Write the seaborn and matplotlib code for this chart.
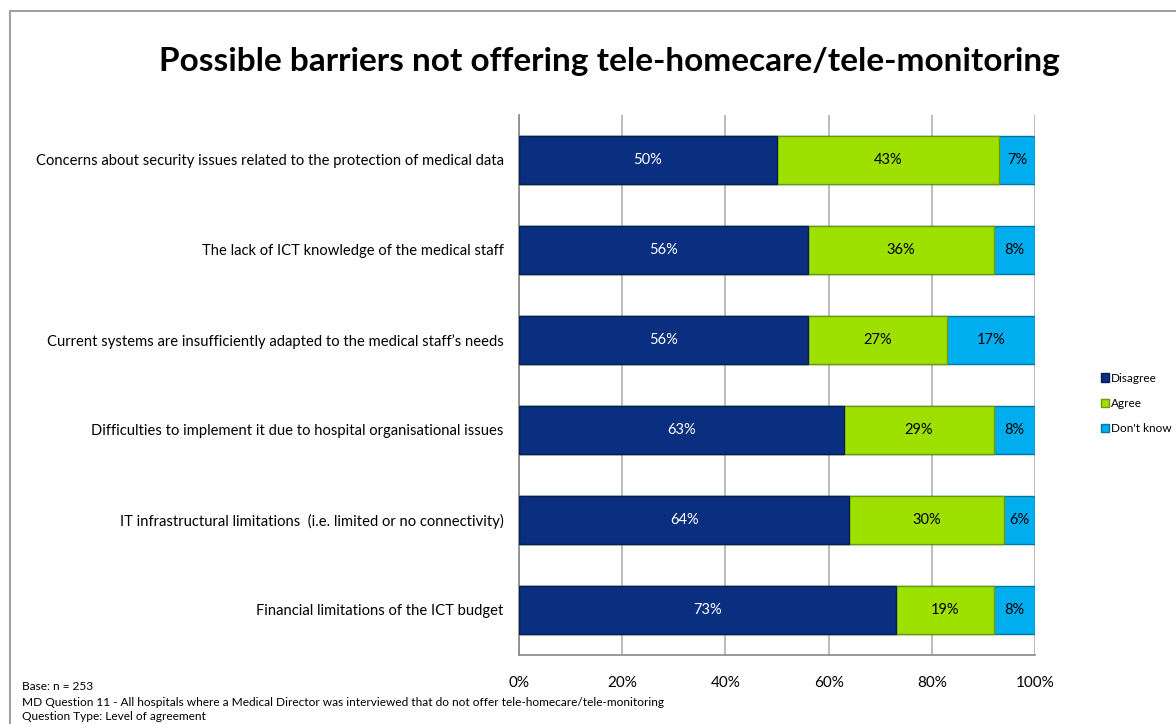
import matplotlib
matplotlib.use("Agg")
import matplotlib.pyplot as plt
import numpy as np
import pandas as pd
import seaborn as sns
from matplotlib.patches import Rectangle

categories = [
    "Concerns about security issues related to the protection of medical data",
    "The lack of ICT knowledge of the medical staff",
    "Current systems are insufficiently adapted to the medical staff\u2019s needs",
    "Difficulties to implement it due to hospital organisational issues",
    "IT infrastructural limitations  (i.e. limited or no connectivity)",
    "Financial limitations of the ICT budget",
]
disagree = [50, 56, 56, 63, 64, 73]
agree = [43, 36, 27, 29, 30, 19]
dont_know = [7, 8, 17, 8, 6, 8]

series = ["Disagree", "Agree", "Don't know"]
colors = {"Disagree": "#0B2F80", "Agree": "#9EE000", "Don't know": "#00AEEF"}
edges = {"Disagree": "#071E55", "Agree": "#6E9A00", "Don't know": "#00779F"}
tick_labels = ["0%", "20%", "40%", "60%", "80%", "100%"]

sns.set_theme(style="white")
plt.rcParams["font.family"] = ["Lato", "DejaVu Sans"]
plt.rcParams["text.color"] = "black"
plt.rcParams["xtick.color"] = "#888888"
plt.rcParams["ytick.color"] = "#888888"
plt.rcParams["xtick.labelcolor"] = "black"
plt.rcParams["ytick.labelcolor"] = "black"

df = pd.DataFrame({"category": categories, "Disagree": disagree,
                   "Agree": agree, "Don't know": dont_know})
df["c_dis"] = df["Disagree"]
df["c_agr"] = df["Disagree"] + df["Agree"]
df["c_dk"] = df["c_agr"] + df["Don't know"]

fig = plt.figure(figsize=(11.76, 7.24), dpi=100)
ax = fig.add_axes([519 / 1176, 1 - 655 / 724, 516 / 1176, 540 / 724])

# stacked bars: draw cumulative totals back to front
for col, name in [("c_dk", "Don't know"), ("c_agr", "Agree"), ("c_dis", "Disagree")]:
    sns.barplot(data=df, x=col, y="category", orient="h", color=colors[name],
                width=0.53, edgecolor=edges[name], linewidth=1.0, ax=ax,
                saturation=1, label=name, zorder=3, legend=False)

# value labels
for i, row in df.iterrows():
    ax.text(row["Disagree"] / 2, i, f"{row['Disagree']}%", ha="center",
            va="center", color="white", fontsize=10.5, zorder=5)
    ax.text(row["c_dis"] + row["Agree"] / 2, i, f"{row['Agree']}%",
            ha="center", va="center", color="black", fontsize=10.5, zorder=5)
    ax.text(row["c_agr"] + row["Don't know"] / 2, i, f"{row['Don\'t know']}%",
            ha="center", va="center", color="black", fontsize=10.5, zorder=5)

ax.set_xlim(0, 100)
ax.set_ylim(len(categories) - 0.5, -0.5)
ax.set_xticks(np.arange(0, 101, 20))
ax.set_xticklabels(tick_labels, fontsize=11)
ax.set_xlabel("")
ax.set_ylabel("")
ax.set_yticks(np.arange(len(categories)), categories)
ax.tick_params(axis="y", length=0, pad=11, labelsize=10.6)
ax.set_yticks(np.arange(-0.5, len(categories)), minor=True)
ax.tick_params(axis="y", which="minor", length=5, direction="out")
ax.tick_params(axis="x", length=5, direction="out", pad=10)
ax.xaxis.grid(True, color="#B0B0B0", linewidth=1.2, zorder=0)
ax.set_axisbelow(True)
for s in ["top", "right"]:
    ax.spines[s].set_visible(False)
for s in ["left", "bottom"]:
    ax.spines[s].set_color("#888888")
    ax.spines[s].set_linewidth(1.2)
if ax.get_legend() is not None:
    ax.get_legend().remove()

handles, labels = ax.get_legend_handles_labels()
order = [labels.index(n) for n in series]
fig.legend([handles[k] for k in order], series, loc="upper left",
           bbox_to_anchor=(1090 / 1176, 1 - 362 / 724), frameon=False,
           fontsize=8.5, handlelength=0.7, handleheight=0.7,
           handletextpad=0.2, labelspacing=1.2)

fig.text(609 / 1176, 1 - 62 / 724,
         "Possible barriers not offering tele-homecare/tele-monitoring",
         ha="center", va="center", fontsize=24, fontweight="bold")

fig.text(22 / 1176, 1 - 687 / 724, "Base: n = 253", fontsize=8.6, va="center")
fig.text(22 / 1176, 1 - 702 / 724,
         "MD Question 11 - All hospitals where a Medical Director was interviewed "
         "that do not offer tele-homecare/tele-monitoring", fontsize=8.6, va="center")
fig.text(22 / 1176, 1 - 717 / 724, "Question Type: Level of agreement",
         fontsize=8.6, va="center")

fig.patches.append(Rectangle((10 / 1176, -0.1), 1.2, 1.1 - 11 / 724,
                             transform=fig.transFigure, fill=False,
                             edgecolor="#A0A0A0", linewidth=1.5))

fig.savefig("out.png", dpi=100)
